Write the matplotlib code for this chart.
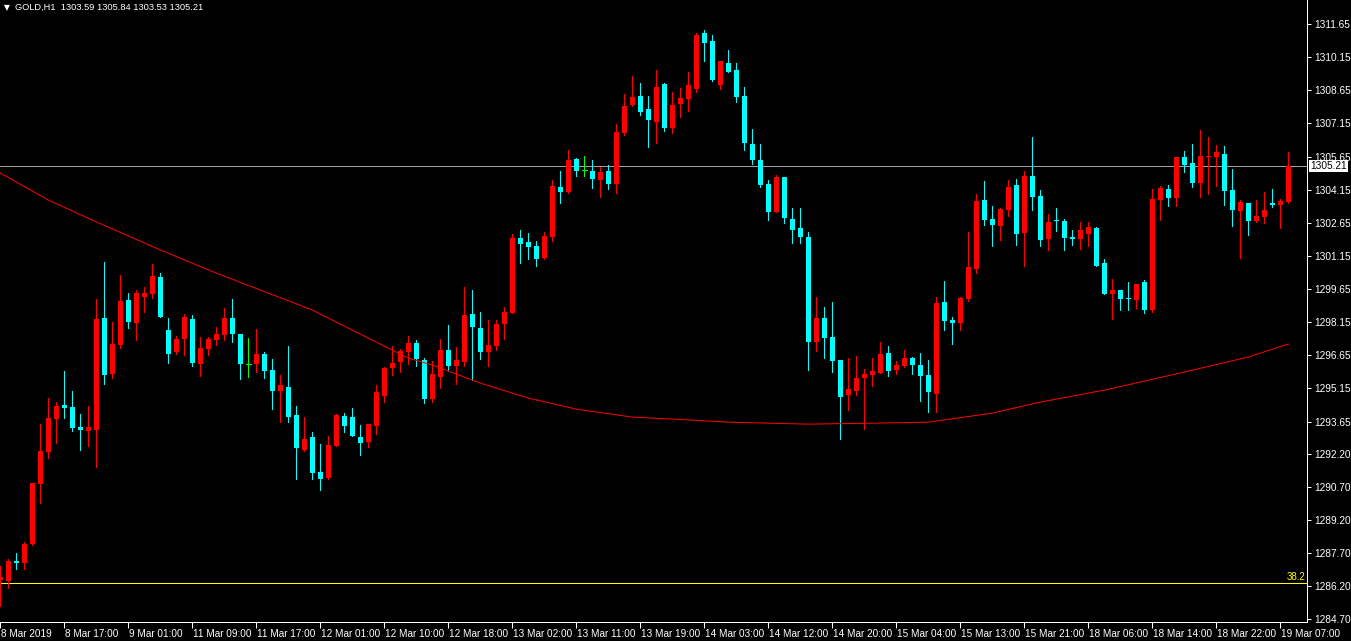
import numpy as np
import matplotlib
matplotlib.use('Agg')
import matplotlib.pyplot as plt
from matplotlib import transforms

plt.rcParams['font.family'] = ['Liberation Sans', 'DejaVu Sans']

symbol = 'GOLD,H1'

# hourly bars (oldest first)
opens = [1286.47, 1286.42, 1287.33, 1287.24, 1288.10, 1290.82, 1292.26, 1293.76, 1294.39, 1294.30,
         1293.39, 1293.21, 1293.26, 1298.33, 1295.80, 1297.12, 1299.15, 1298.11, 1299.29, 1299.42,
         1300.19, 1297.79, 1296.80, 1297.38, 1298.29, 1296.25, 1296.93, 1297.34, 1297.57, 1298.33,
         1297.61, 1296.25, 1296.25, 1296.71, 1295.98, 1295.03, 1295.21, 1293.94, 1292.36, 1292.94,
         1291.36, 1291.09, 1292.54, 1293.89, 1293.85, 1292.94, 1292.72, 1293.44, 1294.80, 1296.07,
         1296.34, 1296.80, 1297.20, 1296.43, 1294.67, 1295.66, 1296.89, 1296.16, 1296.34, 1298.52,
         1297.88, 1296.80, 1297.07, 1298.06, 1298.56, 1301.96, 1301.78, 1301.60, 1301.05, 1302.00,
         1304.27, 1304.04, 1305.54, 1305.04, 1304.99, 1304.59, 1304.99, 1304.40, 1306.71, 1307.98,
         1308.39, 1307.80, 1307.21, 1308.93, 1306.94, 1308.03, 1308.26, 1308.71, 1311.25, 1310.88,
         1308.89, 1309.89, 1309.57, 1308.39, 1306.21, 1305.49, 1304.40, 1303.14, 1304.72, 1302.82,
         1302.41, 1302.00, 1297.25, 1298.33, 1297.48, 1296.43, 1294.85, 1295.03, 1295.62, 1295.75,
         1295.84, 1296.75, 1295.98, 1296.16, 1296.52, 1296.21, 1295.75, 1294.89, 1299.06, 1298.25,
         1298.11, 1299.20, 1300.56, 1303.68, 1302.82, 1302.50, 1303.23, 1304.36, 1302.19, 1304.77,
         1303.86, 1301.91, 1302.73, 1302.73, 1302.00, 1301.91, 1302.14, 1302.41, 1300.83, 1299.42,
         1299.61, 1299.24, 1299.15, 1299.97, 1298.70, 1303.68, 1304.18, 1303.77, 1305.63, 1305.36,
         1304.45, 1305.63, 1305.63, 1305.77, 1304.13, 1303.18, 1303.54, 1302.73, 1302.91, 1303.54,
         1303.45, 1303.59]
highs = [1287.10, 1287.42, 1287.69, 1288.19, 1290.86, 1293.53, 1294.71, 1294.53, 1295.93, 1295.03,
         1293.98, 1294.35, 1299.20, 1300.87, 1298.15, 1300.28, 1299.47, 1299.61, 1299.74, 1300.78,
         1300.37, 1298.33, 1297.52, 1298.52, 1298.47, 1297.48, 1297.48, 1297.93, 1298.79, 1299.20,
         1297.61, 1297.43, 1297.84, 1296.80, 1296.48, 1295.75, 1297.07, 1294.35, 1293.85, 1293.17,
         1292.63, 1292.99, 1293.98, 1294.03, 1294.26, 1293.48, 1293.53, 1295.30, 1296.11, 1297.07,
         1296.93, 1297.52, 1297.34, 1296.52, 1296.39, 1297.38, 1298.02, 1297.02, 1299.74, 1299.61,
         1298.61, 1298.25, 1298.25, 1298.83, 1302.14, 1302.32, 1302.19, 1301.82, 1302.23, 1304.59,
         1304.99, 1305.95, 1305.58, 1305.67, 1305.49, 1305.17, 1305.27, 1307.12, 1308.48, 1309.30,
         1308.98, 1308.39, 1309.57, 1308.98, 1308.57, 1308.75, 1309.48, 1311.25, 1311.38, 1311.16,
         1309.98, 1310.48, 1309.89, 1308.80, 1306.90, 1306.21, 1304.59, 1304.81, 1304.72, 1303.32,
         1303.32, 1302.23, 1299.29, 1298.83, 1299.06, 1296.43, 1296.52, 1296.61, 1296.02, 1296.52,
         1297.25, 1297.07, 1296.39, 1296.89, 1296.57, 1296.75, 1296.43, 1299.29, 1300.01, 1298.38,
         1299.29, 1302.23, 1303.95, 1304.54, 1303.41, 1303.32, 1304.59, 1304.63, 1304.99, 1306.53,
         1304.13, 1303.05, 1303.32, 1302.82, 1302.32, 1302.69, 1302.69, 1302.46, 1301.01, 1300.10,
         1299.61, 1299.97, 1299.88, 1300.06, 1304.18, 1304.31, 1304.36, 1305.63, 1305.90, 1306.21,
         1306.85, 1306.53, 1306.17, 1306.12, 1305.08, 1303.68, 1303.54, 1303.68, 1304.04, 1304.18,
         1303.73, 1305.84]
lows = [1285.30, 1286.10, 1286.96, 1286.96, 1288.05, 1289.95, 1291.99, 1292.67, 1293.80, 1293.21,
        1292.36, 1292.54, 1291.58, 1295.35, 1295.62, 1296.98, 1297.88, 1297.34, 1298.61, 1299.24,
        1298.38, 1296.30, 1296.71, 1296.67, 1296.16, 1295.71, 1296.67, 1297.12, 1297.34, 1297.25,
        1295.57, 1295.66, 1295.89, 1295.62, 1294.21, 1293.62, 1293.62, 1291.04, 1292.31, 1291.04,
        1290.54, 1291.04, 1292.54, 1293.17, 1292.99, 1292.13, 1292.49, 1293.08, 1294.53, 1295.75,
        1295.89, 1296.25, 1296.16, 1294.49, 1294.53, 1295.16, 1295.98, 1295.35, 1296.16, 1295.53,
        1296.48, 1296.16, 1296.89, 1297.38, 1298.56, 1300.83, 1301.01, 1300.69, 1301.01, 1301.82,
        1303.54, 1304.00, 1304.77, 1304.77, 1304.22, 1303.81, 1304.18, 1304.00, 1306.62, 1307.94,
        1307.53, 1306.08, 1306.26, 1306.80, 1306.71, 1307.44, 1307.71, 1308.57, 1309.98, 1309.07,
        1308.71, 1309.48, 1308.12, 1305.95, 1305.31, 1304.27, 1302.78, 1303.14, 1302.64, 1301.73,
        1301.73, 1295.98, 1296.84, 1296.52, 1295.89, 1292.85, 1294.17, 1294.85, 1293.30, 1295.26,
        1295.84, 1295.71, 1295.80, 1296.11, 1295.80, 1294.58, 1294.08, 1294.08, 1297.79, 1297.16,
        1297.79, 1299.10, 1300.37, 1302.55, 1301.60, 1301.87, 1302.96, 1301.64, 1300.69, 1303.23,
        1301.60, 1301.42, 1302.28, 1301.42, 1301.64, 1301.46, 1301.60, 1300.69, 1299.42, 1298.29,
        1298.70, 1298.70, 1298.79, 1298.56, 1298.61, 1302.78, 1303.41, 1303.41, 1304.95, 1304.27,
        1303.81, 1303.95, 1304.31, 1303.45, 1302.50, 1301.05, 1302.10, 1302.69, 1302.64, 1303.36,
        1302.41, 1303.53]
closes = [1286.60, 1287.33, 1287.24, 1288.10, 1290.86, 1292.31, 1293.80, 1294.35, 1294.26, 1293.35,
          1293.26, 1293.39, 1298.29, 1295.75, 1297.16, 1299.10, 1298.15, 1299.47, 1299.47, 1300.24,
          1298.38, 1296.71, 1297.38, 1298.38, 1296.30, 1296.98, 1297.38, 1297.61, 1298.33, 1297.61,
          1296.25, 1296.25, 1296.71, 1295.93, 1295.03, 1295.30, 1293.85, 1292.45, 1292.85, 1291.31,
          1291.04, 1292.58, 1293.94, 1293.44, 1292.99, 1292.67, 1293.53, 1294.98, 1296.07, 1296.30,
          1296.84, 1297.20, 1296.48, 1294.67, 1295.80, 1296.89, 1296.16, 1296.43, 1298.47, 1297.93,
          1296.80, 1297.12, 1298.06, 1298.61, 1301.96, 1301.69, 1301.55, 1301.01, 1302.05, 1304.31,
          1304.04, 1305.49, 1304.99, 1305.04, 1304.63, 1304.95, 1304.40, 1306.76, 1307.94, 1308.35,
          1307.66, 1307.30, 1308.80, 1306.94, 1307.98, 1308.30, 1308.89, 1311.16, 1310.79, 1309.12,
          1309.98, 1309.48, 1308.35, 1306.26, 1305.49, 1304.36, 1303.14, 1304.72, 1302.87, 1302.32,
          1302.00, 1297.25, 1298.33, 1297.43, 1296.39, 1294.76, 1295.12, 1295.62, 1295.80, 1295.93,
          1296.71, 1295.93, 1296.21, 1296.52, 1296.21, 1295.71, 1294.98, 1299.01, 1298.20, 1298.11,
          1299.24, 1300.65, 1303.64, 1302.78, 1302.55, 1303.27, 1304.27, 1302.14, 1304.77, 1303.81,
          1301.87, 1302.69, 1302.71, 1301.96, 1301.91, 1302.32, 1302.46, 1300.69, 1299.42, 1299.61,
          1299.20, 1299.20, 1299.88, 1298.70, 1303.73, 1304.22, 1303.77, 1305.63, 1305.27, 1304.45,
          1305.67, 1305.67, 1305.86, 1304.09, 1303.23, 1303.59, 1302.73, 1302.96, 1303.23, 1303.45,
          1303.64, 1305.21]

# moving average, read at a few bars
ma_bars = [0, 6, 12, 20, 27, 39, 51, 54, 60, 66, 72, 79, 84, 91, 101, 110, 116, 124, 130, 138, 148, 156, 161]
ma_values = [1304.90, 1303.68, 1302.69, 1301.42, 1300.37, 1298.70, 1296.52, 1296.21, 1295.39, 1294.71,
             1294.21, 1293.85, 1293.76, 1293.62, 1293.53, 1293.58, 1293.62, 1294.03, 1294.53, 1295.07,
             1295.89, 1296.57, 1297.16]

fib_level = 1286.32
fib_label = '38.2'

price_ticks = [1311.65, 1310.15, 1308.65, 1307.15, 1305.65, 1304.15, 1302.65, 1301.15, 1299.65, 1298.15,
               1296.65, 1295.15, 1293.65, 1292.20, 1290.70, 1289.20, 1287.70, 1286.20, 1284.70]
time_labels = ['8 Mar 2019', '8 Mar 17:00', '9 Mar 01:00', '11 Mar 09:00', '11 Mar 17:00', '12 Mar 01:00',
               '12 Mar 10:00', '12 Mar 18:00', '13 Mar 02:00', '13 Mar 11:00', '13 Mar 19:00', '14 Mar 03:00',
               '14 Mar 12:00', '14 Mar 20:00', '15 Mar 04:00', '15 Mar 13:00', '15 Mar 21:00', '18 Mar 06:00',
               '18 Mar 14:00', '18 Mar 22:00', '19 Mar 07:00']
label_step = 8

W, H = 1351, 641
PX = 0.72  # one pixel in points

fig = plt.figure(figsize=(W / 100, H / 100), dpi=100, facecolor='black')
ax = fig.add_axes([0, 19 / H, 1307 / W, 622 / H], facecolor='black')

y_top = 1312.74
y_bot = y_top - 622 * 0.04529
ax.set_ylim(y_bot, y_top)
ax.set_xlim(-0.3 / 8, (1307 - 0.3) / 8)
px_price = (y_top - y_bot) / 622

o = np.array(opens)
h = np.array(highs)
l = np.array(lows)
c = np.array(closes)
x = np.arange(len(o))

colors = np.where(c > o, '#ff0000', np.where(c < o, '#00ffff', '#00ff00'))
doji = c == o

# grey bid line and the fibo level behind the bars
ax.axhline(c[-1], color='#a0a0a0', lw=PX, zorder=1)
ax.axhline(fib_level, color='#ffff00', lw=PX, antialiased=False, zorder=1)
ax.text(ax.get_xlim()[1] - 0.2, fib_level + px_price, fib_label, color='#ffff00', fontsize=7,
        ha='right', va='bottom', zorder=5)

ax.vlines(x, l, h, colors=colors, lw=PX, antialiased=False, zorder=2)
body = ~doji
ax.bar(x[body], np.maximum(np.abs(c - o)[body], px_price), bottom=np.minimum(o, c)[body],
       width=0.625, color=colors[body], linewidth=0, antialiased=False, zorder=3)
ax.hlines(o[doji], x[doji] - 0.31, x[doji] + 0.31, colors='#00ff00', lw=PX, antialiased=False, zorder=3)

ax.plot(ma_bars, ma_values, color='#ff0000', lw=PX, zorder=4)

# axes look
for s in ['left', 'top']:
    ax.spines[s].set_visible(False)
for s in ['right', 'bottom']:
    ax.spines[s].set_color('white')
    ax.spines[s].set_linewidth(PX)

ax.yaxis.tick_right()
ax.set_yticks(price_ticks)
ax.set_yticklabels(['%.2f' % p for p in price_ticks])
ax.tick_params(axis='y', colors='white', length=3, width=PX, labelsize=7.3, pad=2)

ax.set_xticks(np.arange(0, len(o), label_step))
ax.set_xticklabels(time_labels, ha='left')
ax.tick_params(axis='x', colors='white', length=4, width=PX, labelsize=7.2, pad=1)
shift = transforms.ScaledTranslation(1 / 100, 0, fig.dpi_scale_trans)
for lbl in ax.get_xticklabels():
    lbl.set_transform(lbl.get_transform() + shift)

# current price box on the scale
ax.annotate('%.2f' % c[-1], xy=(1, c[-1]), xycoords=('axes fraction', 'data'),
            xytext=(3, 0), textcoords='offset pixels', fontsize=7.3, color='black',
            va='center', ha='left', annotation_clip=False, zorder=10,
            bbox=dict(boxstyle='square,pad=0.1', fc='white', ec='none'))

# header
fig.text(4 / W, 1 - 7.5 / H, '\u25bc', color='white', fontsize=5.5, va='center', family='DejaVu Sans')
fig.text(15 / W, 1 - 7.5 / H, '%s  %.2f %.2f %.2f %.2f' % (symbol, o[-1], h[-1], l[-1], c[-1]),
         color='white', fontsize=6.7, va='center')

fig.savefig('out.png', dpi=100, facecolor='black')
